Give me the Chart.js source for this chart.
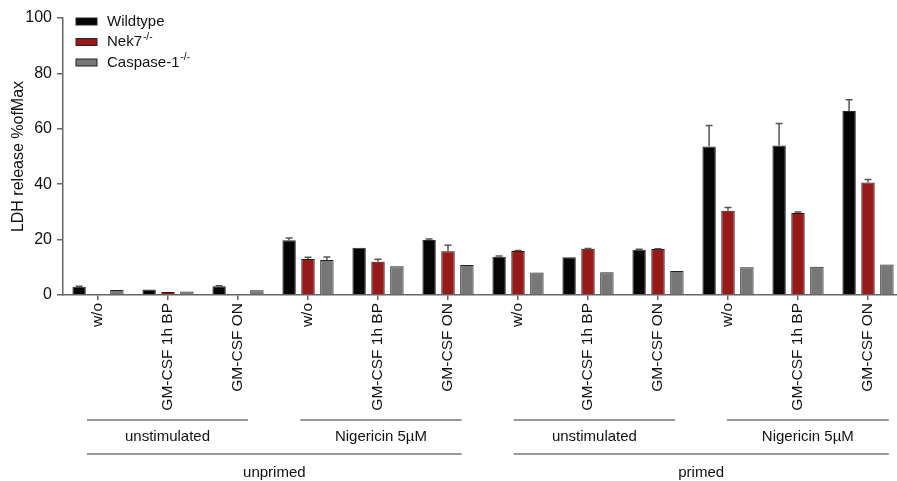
<!DOCTYPE html>
<html>
<head>
<meta charset="utf-8">
<title>LDH release</title>
<script src="https://cdn.jsdelivr.net/npm/chart.js@4"></script>
<style>
  html, body { margin: 0; padding: 0; background: #fff; overflow: hidden; }
  #wrap { width: 903px; height: 481px; }
</style>
</head>
<body>
<div id="wrap"><canvas id="ldh" width="903" height="481"></canvas></div>
<script>
// treatment per bar group
const treatments = [
  "w/o", "GM-CSF 1h BP", "GM-CSF ON",
  "w/o", "GM-CSF 1h BP", "GM-CSF ON",
  "w/o", "GM-CSF 1h BP", "GM-CSF ON",
  "w/o", "GM-CSF 1h BP", "GM-CSF ON"
];
// stimulus spans 3 treatments, priming spans 6
const stimulusLabels = ["unstimulated", "Nigericin 5µM", "unstimulated", "Nigericin 5µM"];
const primingLabels = ["unprimed", "primed"];

const wildtype = [3.0, 2.0, 3.2, 19.8, 17.1, 19.9, 13.8, 13.6, 16.3, 53.6, 54.0, 66.4];
const wildtypeErr = [0.2, 0, 0.1, 0.8, 0, 0.3, 0.3, 0, 0.2, 7.6, 7.9, 4.1];
const nek7 = [null, 1.1, null, 13.0, 12.0, 15.8, 15.9, 16.7, 16.6, 30.4, 29.6, 40.6];
const nek7Err = [0, 0, 0, 0.6, 0.9, 2.2, 0.2, 0.1, 0.1, 1.2, 0.4, 1.1];
const caspase1 = [1.8, 1.3, 1.7, 12.6, 10.4, 10.8, 8.1, 8.2, 8.7, 10.0, 10.2, 11.0];
const caspase1Err = [0, 0, 0, 1.1, 0, 0, 0, 0, 0, 0, 0, 0];

const yTicks = [0, 20, 40, 60, 80, 100];

const FONT = "'Liberation Sans', Arial, Helvetica, sans-serif";
const TEXT = "#111";
const AXIS = "#666";

// upward SEM whiskers
const errorBars = {
  id: "errorBars",
  afterDatasetsDraw(chart) {
    const ctx = chart.ctx;
    const y = chart.scales.y;
    ctx.save();
    ctx.strokeStyle = "#555";
    ctx.lineWidth = 1.5;
    chart.data.datasets.forEach((ds, i) => {
      const meta = chart.getDatasetMeta(i);
      meta.data.forEach((bar, j) => {
        const v = ds.data[j];
        const e = ds.errors[j];
        if (v == null || !e) return;
        const top = y.getPixelForValue(v + e);
        ctx.beginPath();
        ctx.moveTo(bar.x, bar.y);
        ctx.lineTo(bar.x, top);
        ctx.moveTo(bar.x - 3.5, top);
        ctx.lineTo(bar.x + 3.5, top);
        ctx.stroke();
      });
    });
    ctx.restore();
  }
};

// bracket lines and group names under the x axis
const groupLabels = {
  id: "groupLabels",
  afterDraw(chart) {
    const ctx = chart.ctx;
    const x = chart.scales.x;
    const base = chart.chartArea.bottom;
    ctx.save();
    ctx.strokeStyle = "#333";
    ctx.lineWidth = 1.2;
    ctx.fillStyle = TEXT;
    ctx.font = "15px " + FONT;
    ctx.textAlign = "center";
    ctx.textBaseline = "middle";

    // brackets drift slightly right of the bars further along the axis
    const bracket = (first, last, yLine, yText, label) => {
      const x0 = x.getPixelForValue(first) - 11 + first * 1.1;
      const x1 = x.getPixelForValue(last) + 10 + (last - 2) * 1.2;
      ctx.beginPath();
      ctx.moveTo(x0, yLine);
      ctx.lineTo(x1, yLine);
      ctx.stroke();
      ctx.fillText(label, (x0 + x1) / 2, yText);
    };

    stimulusLabels.forEach((label, i) => {
      bracket(i * 3, i * 3 + 2, base + 125, base + 142, label);
    });
    primingLabels.forEach((label, i) => {
      bracket(i * 6, i * 6 + 5, base + 159, base + 178, label);
    });
    ctx.restore();
  }
};

// legend inside the plot, top left, with superscript genotypes
const legendBox = {
  id: "legendBox",
  afterDraw(chart) {
    const ctx = chart.ctx;
    const left = chart.chartArea.left + 13;
    const top = chart.chartArea.top + 3.5;
    ctx.save();
    ctx.textBaseline = "middle";
    chart.data.datasets.forEach((ds, i) => {
      const cy = top + i * 20.5;
      ctx.fillStyle = ds.backgroundColor;
      ctx.strokeStyle = "#222";
      ctx.lineWidth = 1;
      ctx.fillRect(left, cy - 3.5, 21, 7);
      ctx.strokeRect(left, cy - 3.5, 21, 7);
      ctx.fillStyle = TEXT;
      ctx.font = "15px " + FONT;
      ctx.fillText(ds.label, left + 31, cy);
      if (ds.sup) {
        const w = ctx.measureText(ds.label).width;
        ctx.font = "10px " + FONT;
        ctx.fillText(ds.sup, left + 31 + w + 1, cy - 5);
      }
    });
    ctx.restore();
  }
};

const ctx = document.getElementById("ldh").getContext("2d");
new Chart(ctx, {
  type: "bar",
  data: {
    labels: treatments,
    datasets: [
      { label: "Wildtype", data: wildtype, errors: wildtypeErr, backgroundColor: "#050505", borderColor: "#2a2a2a" },
      { label: "Nek7", sup: "-/-", data: nek7, errors: nek7Err, backgroundColor: "#961a1a", borderColor: "#2a1010" },
      { label: "Caspase-1", sup: "-/-", data: caspase1, errors: caspase1Err, backgroundColor: "#777777", borderColor: "#222" }
    ]
  },
  options: {
    responsive: false,
    animation: false,
    devicePixelRatio: 1,
    layout: { padding: { top: 18, right: 0, left: 0, bottom: 0 } },
    datasets: {
      bar: { categoryPercentage: 0.81, barPercentage: 0.71, borderWidth: 1 }
    },
    plugins: {
      legend: { display: false },
      tooltip: { enabled: false }
    },
    scales: {
      x: {
        grid: { offset: false, drawOnChartArea: false, drawTicks: true, tickLength: 5, color: AXIS, lineWidth: 1.5 },
        border: { color: AXIS, width: 1.5 },
        ticks: {
          minRotation: 90,
          maxRotation: 90,
          autoSkip: false,
          padding: 3,
          color: TEXT,
          font: { family: FONT, size: 15.5 }
        },
        afterFit(scale) { scale.height = 186; }
      },
      y: {
        min: 0,
        max: 100,
        afterBuildTicks(scale) { scale.ticks = yTicks.map(v => ({ value: v })); },
        grid: { drawOnChartArea: false, drawTicks: true, tickLength: 6, color: AXIS, lineWidth: 1.5 },
        border: { color: AXIS, width: 1.5 },
        ticks: { padding: 5, color: TEXT, font: { family: FONT, size: 16 } },
        title: {
          display: true,
          text: "LDH release %ofMax",
          color: TEXT,
          font: { family: FONT, size: 16 },
          padding: { top: 9, bottom: 0 }
        },
        afterFit(scale) { scale.width = 63; }
      }
    }
  },
  plugins: [errorBars, groupLabels, legendBox]
});
</script>
</body>
</html>
